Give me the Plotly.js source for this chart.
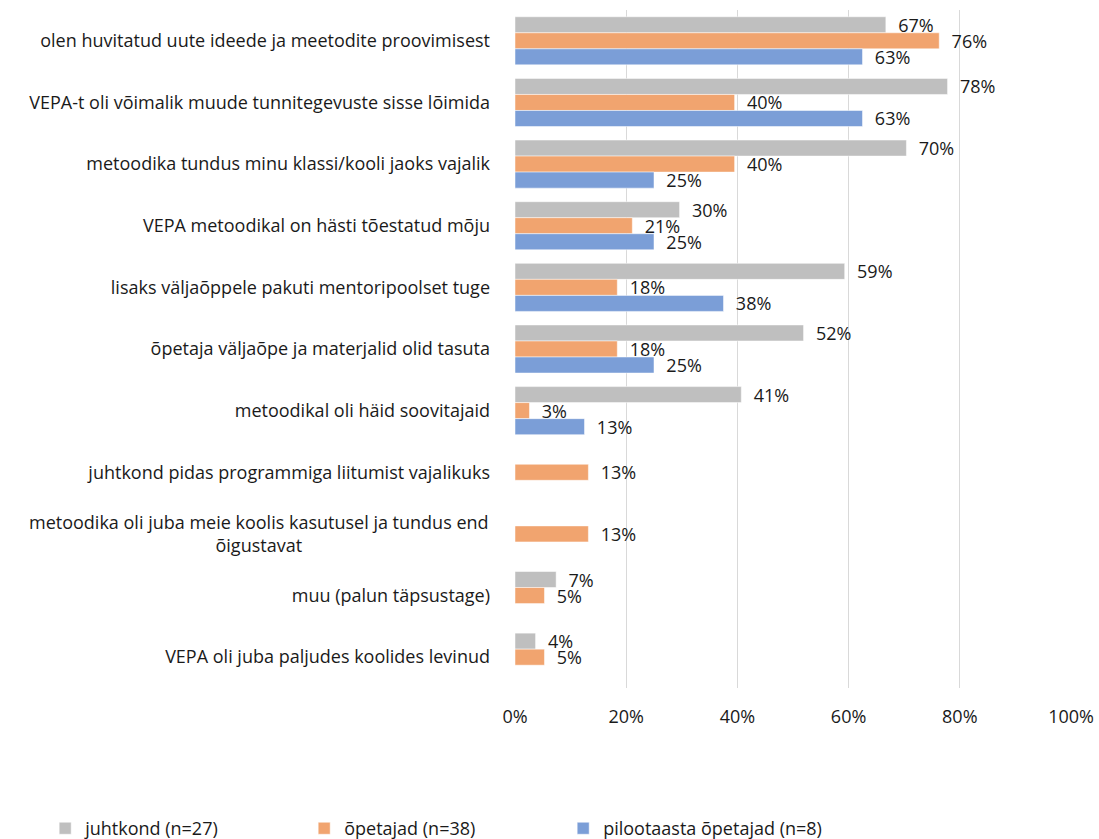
<!DOCTYPE html>
<html>
<head>
<meta charset="utf-8">
<script src="https://cdn.plot.ly/plotly-3.0.1.min.js"></script>
<style>html,body{margin:0;padding:0;background:#fff;}#chart{width:1099px;height:839px;}</style>
</head>
<body>
<div id="chart"></div>
<script>
const categories = [
  "olen huvitatud uute ideede ja meetodite proovimisest",
  "VEPA-t oli võimalik muude tunnitegevuste sisse lõimida",
  "metoodika tundus minu klassi/kooli jaoks vajalik",
  "VEPA metoodikal on hästi tõestatud mõju",
  "lisaks väljaõppele pakuti mentoripoolset tuge",
  "õpetaja väljaõpe ja materjalid olid tasuta",
  "metoodikal oli häid soovitajaid",
  "juhtkond pidas programmiga liitumist vajalikuks",
  "metoodika oli juba meie koolis kasutusel ja tundus end<br>õigustavat",
  "muu (palun täpsustage)",
  "VEPA oli juba paljudes koolides levinud"
];
const seriesNames = ["juhtkond (n=27)", "õpetajad (n=38)", "pilootaasta õpetajad (n=8)"];
const juhtkond = [0.667, 0.778, 0.704, 0.296, 0.593, 0.519, 0.407, null, null, 0.074, 0.037];
const opetajad = [0.763, 0.395, 0.395, 0.211, 0.184, 0.184, 0.026, 0.132, 0.132, 0.053, 0.053];
const piloot   = [0.625, 0.625, 0.25, 0.25, 0.375, 0.25, 0.125, null, null, null, null];
const tickVals = [0, 0.2, 0.4, 0.6, 0.8, 1.0];
const tickText = ["0%", "20%", "40%", "60%", "80%", "100%"];
const colors = ["#BFBFBF", "#F1A46F", "#7B9ED7"];

const FONT = "'Open Sans', sans-serif";
const FS = 18;
const TXT = '#1a1a1a';

// category tick labels: multi-line ones are drawn as centred annotations
const yTickText = categories.map(c => c.includes('<br>') ? '' : c);
const multiLineAnnotations = categories
  .filter(c => c.includes('<br>'))
  .map(c => ({
    xref: 'paper', yref: 'y', x: 0, y: c, xanchor: 'right', yanchor: 'middle',
    xshift: -24, text: c, showarrow: false, align: 'center',
    font: {family: FONT, size: FS, color: TXT}
  }));

const seriesData = [juhtkond, opetajad, piloot];
const traces = seriesData.map((vals, i) => ({
  type: 'bar',
  orientation: 'h',
  name: seriesNames[i],
  y: categories,
  x: vals,
  marker: {color: colors[i], line: {color: '#ffffff', width: 0.5}},
  texttemplate: '\u00a0\u00a0%{x:.0%}',
  textposition: 'outside',
  constraintext: 'none',
  cliponaxis: false,
  textfont: {family: FONT, size: FS, color: TXT},
  hoverinfo: 'skip'
}));

const layout = {
  width: 1099, height: 839,
  margin: {l: 515, r: 28, t: 10, b: 151, autoexpand: false},
  paper_bgcolor: '#ffffff', plot_bgcolor: '#ffffff',
  barmode: 'group',
  bargap: 0.22, bargroupgap: 0,
  font: {family: FONT, size: FS, color: TXT},
  xaxis: {
    range: [0, 1], tickvals: tickVals, ticktext: tickText,
    showgrid: true, gridcolor: '#D9D9D9', gridwidth: 1,
    zeroline: false, showline: false, ticks: '',
    ticklabelstandoff: 16,
    tickfont: {family: FONT, size: FS, color: TXT},
    fixedrange: true
  },
  yaxis: {
    autorange: 'reversed', showgrid: false, showline: false, zeroline: false,
    ticks: '', ticklabelstandoff: 24,
    tickmode: 'array', tickvals: categories, ticktext: yTickText,
    tickfont: {family: FONT, size: FS, color: TXT},
    fixedrange: true
  },
  annotations: multiLineAnnotations,
  showlegend: true,
  legend: {
    orientation: 'h', xref: 'paper', x: -0.845, xanchor: 'left',
    yref: 'paper', y: -0.18, yanchor: 'top',
    entrywidth: 214, entrywidthmode: 'pixels',
    font: {family: FONT, size: FS, color: TXT},
    itemwidth: 30, tracegroupgap: 0
  }
};
Plotly.newPlot('chart', traces, layout, {displayModeBar: false, staticPlot: true});
</script>
</body>
</html>
